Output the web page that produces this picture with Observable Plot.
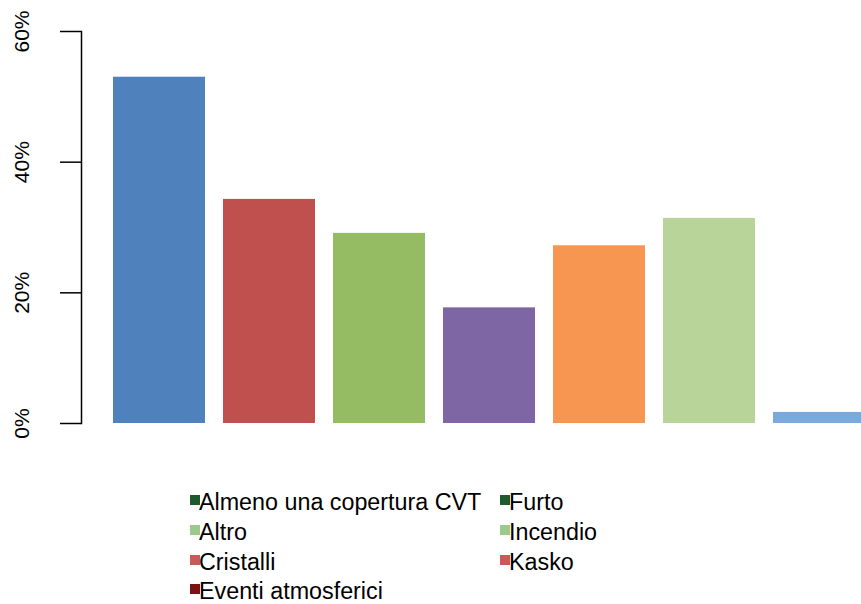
<!DOCTYPE html>
<html>
<head>
<meta charset="utf-8">
<script src="https://cdn.jsdelivr.net/npm/d3@7"></script>
<script src="https://cdn.jsdelivr.net/npm/@observablehq/plot@0.6"></script>
<style>
  html, body { margin: 0; padding: 0; background: #fff; }
  #wrap { position: relative; width: 861px; height: 604px; overflow: hidden; font-family: "Liberation Sans", Arial, sans-serif; }
  .item { position: absolute; font-size: 23.3px; line-height: 23px; color: #000; white-space: nowrap; }
  .sw { position: absolute; width: 10px; height: 10px; }
</style>
</head>
<body>
<div id="wrap"></div>
<script>
const categories = ["Almeno una copertura CVT", "Altro", "Cristalli", "Eventi atmosferici", "Furto", "Incendio", "Kasko"];
const values = [53.0, 34.3, 29.1, 17.7, 27.2, 31.4, 1.7];
const barColors = ["#4f81bd", "#c0504d", "#95bb63", "#7e66a4", "#f79650", "#b9d498", "#7aaadc"];
const legendColors = ["#1e5a2e", "#9cc98c", "#c85a5a", "#7b1315", "#1e5a2e", "#9cc98c", "#c85a5a"];
const yTicks = [0, 20, 40, 60];

const data = categories.map((c, i) => ({cat: c, value: values[i], color: barColors[i]}));

const chart = Plot.plot({
  width: 861,
  height: 604,
  marginLeft: 81,
  marginRight: 0,
  marginTop: 31,
  marginBottom: 181,
  style: {fontFamily: "Liberation Sans, Arial, sans-serif", fontSize: "21px", background: "#fff", overflow: "hidden"},
  x: {domain: categories, range: [101.5, 876], paddingInner: 0.16, paddingOuter: 0.08, axis: null},
  y: {domain: [0, 60]},
  marks: [
    Plot.barY(data, {x: "cat", y: "value", fill: "color"}),
    Plot.frame({anchor: "left", stroke: "#000", strokeWidth: 1.5}),
    Plot.axisY({ticks: yTicks, tickFormat: d => d + "%", tickSize: 21, tickRotate: -90, tickPadding: 32, fontSize: 21, fill: "#000", stroke: "#000", strokeWidth: 1.5, strokeOpacity: 1, fillOpacity: 1, label: null})
  ]
});
const wrap = document.getElementById("wrap");
wrap.appendChild(chart);

// Legend (column-major, 4 rows)
const colX = [190, 500];
const rowTop = [495, 525, 555, 584];
categories.forEach((c, i) => {
  const col = Math.floor(i / 4), row = i % 4;
  const sw = document.createElement("div");
  sw.className = "sw";
  sw.style.left = colX[col] + "px";
  sw.style.top = rowTop[row] + "px";
  sw.style.background = legendColors[i];
  wrap.appendChild(sw);
  const t = document.createElement("div");
  t.className = "item";
  t.style.left = (colX[col] + 9) + "px";
  t.style.top = (rowTop[row] - 4.5) + "px";
  t.textContent = c;
  wrap.appendChild(t);
});
</script>
</body>
</html>
